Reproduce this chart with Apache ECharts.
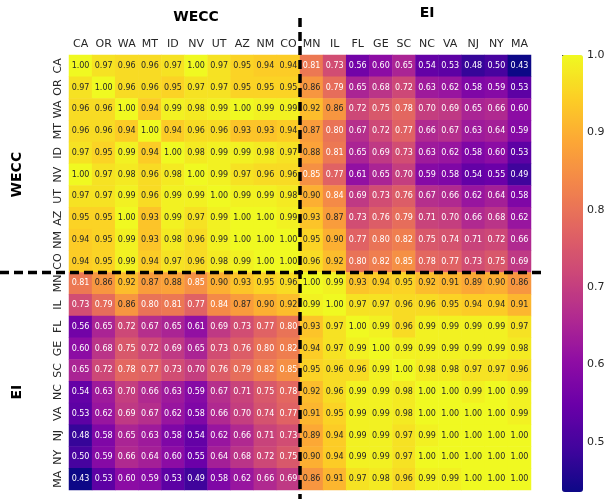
<!DOCTYPE html>
<html>
<head>
<meta charset="utf-8">
<script src="https://cdn.jsdelivr.net/npm/echarts@6/dist/echarts.min.js"></script>
<style>html,body{margin:0;padding:0;background:#fff}#main{width:609px;height:499px}</style>
</head>
<body>
<div id="main"></div>
<script>
// state order, as on both axes
const states = ['CA','OR','WA','MT','ID','NV','UT','AZ','NM','CO','MN','IL','FL','GE','SC','NC','VA','NJ','NY','MA'];

// correlation rows (one per state)
const rowCA = [1.00,0.97,0.96,0.96,0.97,1.00,0.97,0.95,0.94,0.94,0.81,0.73,0.56,0.60,0.65,0.54,0.53,0.48,0.50,0.43];
const rowOR = [0.97,1.00,0.96,0.96,0.95,0.97,0.97,0.95,0.95,0.95,0.86,0.79,0.65,0.68,0.72,0.63,0.62,0.58,0.59,0.53];
const rowWA = [0.96,0.96,1.00,0.94,0.99,0.98,0.99,1.00,0.99,0.99,0.92,0.86,0.72,0.75,0.78,0.70,0.69,0.65,0.66,0.60];
const rowMT = [0.96,0.96,0.94,1.00,0.94,0.96,0.96,0.93,0.93,0.94,0.87,0.80,0.67,0.72,0.77,0.66,0.67,0.63,0.64,0.59];
const rowID = [0.97,0.95,0.99,0.94,1.00,0.98,0.99,0.99,0.98,0.97,0.88,0.81,0.65,0.69,0.73,0.63,0.62,0.58,0.60,0.53];
const rowNV = [1.00,0.97,0.98,0.96,0.98,1.00,0.99,0.97,0.96,0.96,0.85,0.77,0.61,0.65,0.70,0.59,0.58,0.54,0.55,0.49];
const rowUT = [0.97,0.97,0.99,0.96,0.99,0.99,1.00,0.99,0.99,0.98,0.90,0.84,0.69,0.73,0.76,0.67,0.66,0.62,0.64,0.58];
const rowAZ = [0.95,0.95,1.00,0.93,0.99,0.97,0.99,1.00,1.00,0.99,0.93,0.87,0.73,0.76,0.79,0.71,0.70,0.66,0.68,0.62];
const rowNM = [0.94,0.95,0.99,0.93,0.98,0.96,0.99,1.00,1.00,1.00,0.95,0.90,0.77,0.80,0.82,0.75,0.74,0.71,0.72,0.66];
const rowCO = [0.94,0.95,0.99,0.94,0.97,0.96,0.98,0.99,1.00,1.00,0.96,0.92,0.80,0.82,0.85,0.78,0.77,0.73,0.75,0.69];
const rowMN = [0.81,0.86,0.92,0.87,0.88,0.85,0.90,0.93,0.95,0.96,1.00,0.99,0.93,0.94,0.95,0.92,0.91,0.89,0.90,0.86];
const rowIL = [0.73,0.79,0.86,0.80,0.81,0.77,0.84,0.87,0.90,0.92,0.99,1.00,0.97,0.97,0.96,0.96,0.95,0.94,0.94,0.91];
const rowFL = [0.56,0.65,0.72,0.67,0.65,0.61,0.69,0.73,0.77,0.80,0.93,0.97,1.00,0.99,0.96,0.99,0.99,0.99,0.99,0.97];
const rowGE = [0.60,0.68,0.75,0.72,0.69,0.65,0.73,0.76,0.80,0.82,0.94,0.97,0.99,1.00,0.99,0.99,0.99,0.99,0.99,0.98];
const rowSC = [0.65,0.72,0.78,0.77,0.73,0.70,0.76,0.79,0.82,0.85,0.95,0.96,0.96,0.99,1.00,0.98,0.98,0.97,0.97,0.96];
const rowNC = [0.54,0.63,0.70,0.66,0.63,0.59,0.67,0.71,0.75,0.78,0.92,0.96,0.99,0.99,0.98,1.00,1.00,0.99,1.00,0.99];
const rowVA = [0.53,0.62,0.69,0.67,0.62,0.58,0.66,0.70,0.74,0.77,0.91,0.95,0.99,0.99,0.98,1.00,1.00,1.00,1.00,0.99];
const rowNJ = [0.48,0.58,0.65,0.63,0.58,0.54,0.62,0.66,0.71,0.73,0.89,0.94,0.99,0.99,0.97,0.99,1.00,1.00,1.00,1.00];
const rowNY = [0.50,0.59,0.66,0.64,0.60,0.55,0.64,0.68,0.72,0.75,0.90,0.94,0.99,0.99,0.97,1.00,1.00,1.00,1.00,1.00];
const rowMA = [0.43,0.53,0.60,0.59,0.53,0.49,0.58,0.62,0.66,0.69,0.86,0.91,0.97,0.98,0.96,0.99,0.99,1.00,1.00,1.00];

const rows = [rowCA,rowOR,rowWA,rowMT,rowID,rowNV,rowUT,rowAZ,rowNM,rowCO,
              rowMN,rowIL,rowFL,rowGE,rowSC,rowNC,rowVA,rowNJ,rowNY,rowMA];

// colorbar ticks
const colorTicks = [0.5,0.6,0.7,0.8,0.9,1.0];
// the two groups and how many states each has
const groups = ['WECC','EI'];
const groupSize = 10;

// matplotlib "plasma"
const plasma = ['#0d0887','#41049d','#6a00a8','#8f0da4','#b12a90','#cc4778',
                '#e16462','#f2844b','#fca636','#fcce25','#f0f921'];

const heatData = [];
rows.forEach((row, i) => {
  row.forEach((v, j) => {
    heatData.push({
      value: [j, i, v],
      label: { color: v >= 0.86 ? '#262626' : '#ffffff' }
    });
  });
});

const font = 'DejaVu Sans';
const chart = echarts.init(document.getElementById('main'));
const option = {
  animation: false,
  textStyle: { fontFamily: font },
  grid: [
    { left: 69, top: 55, width: 462, height: 435 },
    { left: 562, top: 55, width: 21, height: 437 }  // colorbar ticks
  ],
  xAxis: [
    {
      type: 'category', data: states, position: 'top', gridIndex: 0,
      axisLine: { show: false },
      axisTick: { length: 3.5, lineStyle: { color: '#333' }, alignWithLabel: true },
      axisLabel: { color: '#262626', fontSize: 11, margin: 5, interval: 0 },
      splitLine: { show: false }
    },
    { type: 'value', gridIndex: 1, show: false }
  ],
  yAxis: [
    {
      type: 'category', data: states, inverse: true, gridIndex: 0,
      axisLine: { show: false },
      axisTick: { length: 3.5, lineStyle: { color: '#333' }, alignWithLabel: true },
      axisLabel: { color: '#262626', fontSize: 11, margin: 5, rotate: 90, interval: 0 },
      splitLine: { show: false }
    },
    {
      type: 'value', gridIndex: 1, min: 0.435, max: 1.0, position: 'right',
      axisLine: { show: false },
      splitLine: { show: false },
      axisTick: { show: true, length: 3.5, customValues: colorTicks, lineStyle: { color: '#333' } },
      axisLabel: { customValues: colorTicks, color: '#262626', fontSize: 11, margin: 4,
                   formatter: v => v.toFixed(1) }
    }
  ],
  visualMap: {
    type: 'continuous',
    min: 0.435, max: 1.0,
    seriesIndex: 0,
    calculable: false,
    orient: 'vertical',
    left: 562, top: 55,
    itemWidth: 21, itemHeight: 437,
    padding: 0,
    text: null,
    showLabel: false,
    inRange: { color: plasma }
  },
  series: [{
    type: 'heatmap',
    xAxisIndex: 0, yAxisIndex: 0,
    data: heatData,
    label: { show: true, fontSize: 8, fontFamily: font, formatter: p => p.value[2].toFixed(2) },
    emphasis: { disabled: true },
    itemStyle: { borderWidth: 0 }
  }]
};
chart.setOption(option);

// group titles and dashed separators placed from the axis scales
const px = (x, y) => chart.convertToPixel({ gridIndex: 0 }, [x, y]);
const a = px(groupSize - 1, groupSize - 1), b = px(groupSize, groupSize);
const splitX = (a[0] + b[0]) / 2, splitY = (a[1] + b[1]) / 2;
const c1 = px((groupSize - 1) / 2, (groupSize - 1) / 2);
const c2 = px(groupSize + (states.length - groupSize - 1) / 2, groupSize + (states.length - groupSize - 1) / 2);
const dash = { stroke: '#000', lineWidth: 3.5, lineDash: [9, 5] };
const titleStyle = (t) => ({ text: t, font: 'bold 14px "DejaVu Sans"', fill: '#000', align: 'center', verticalAlign: 'middle' });

chart.setOption({
  graphic: [
    { type: 'line', shape: { x1: splitX, y1: 18, x2: splitX, y2: 499 }, style: dash, z: 100 },
    { type: 'line', shape: { x1: 0, y1: splitY, x2: 545, y2: splitY }, style: dash, z: 100 },
    { type: 'text', x: c1[0], y: 17, style: titleStyle(groups[0]) },
    { type: 'text', x: c2[0], y: 13, style: titleStyle(groups[1]) },
    { type: 'text', x: 17, y: c1[1], rotation: Math.PI / 2, style: titleStyle(groups[0]) },
    { type: 'text', x: 17, y: c2[1], rotation: Math.PI / 2, style: titleStyle(groups[1]) }
  ]
});
</script>
</body>
</html>
